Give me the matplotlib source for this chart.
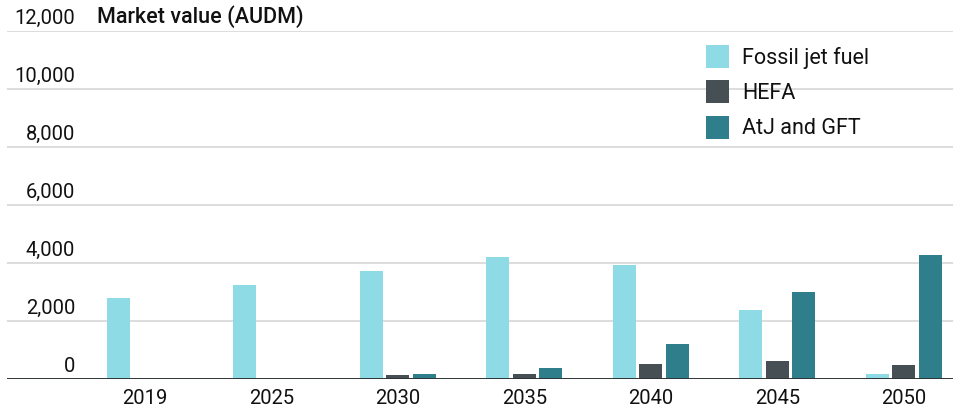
import numpy as np
import matplotlib
matplotlib.use("Agg")
import matplotlib.pyplot as plt

plt.rcParams['font.family'] = ['Roboto', 'DejaVu Sans']

years = ['2019', '2025', '2030', '2035', '2040', '2045', '2050']
fossil = [2800, 3250, 3730, 4220, 3940, 2390, 180]
hefa = [0, 0, 150, 180, 530, 630, 490]
atj_gft = [0, 0, 180, 390, 1220, 3010, 4290]
series_names = ['Fossil jet fuel', 'HEFA', 'AtJ and GFT']
yticks = [0, 2000, 4000, 6000, 8000, 10000, 12000]

colors = ['#8edbe6', '#464f53', '#2e7f8b']

fig = plt.figure(figsize=(9.6, 4.12), dpi=100)
ax = fig.add_axes([7 / 960, 1 - 379.3 / 412, 946 / 960, 348.3 / 412])

x = np.arange(len(years))
w = 0.182
step = 0.21
for i, (vals, name) in enumerate(zip([fossil, hefa, atj_gft], series_names)):
    ax.bar(x + (i - 1) * step, vals, width=w, color=colors[i], label=name, zorder=2)

ax.set_xlim(-1.09, 6.39)
ax.set_ylim(0, 12000)

# gridlines
for v in yticks[1:]:
    ax.axhline(v, color='#d3d3d3', lw=1.1, zorder=1)
ax.axhline(0, color='#2f3436', lw=1.4, zorder=3)

# y labels sit just above the gridlines, right aligned
for v in yticks:
    ax.annotate(f'{v:,}', xy=(0.072, v), xycoords=('axes fraction', 'data'),
                xytext=(0, 2.5), textcoords='offset points', ha='right', va='bottom',
                fontsize=14.5, color='#111111')

ax.annotate('Market value (AUDM)', xy=(0.095, 12000), xycoords=('axes fraction', 'data'),
            xytext=(0, 2.5), textcoords='offset points', ha='left', va='bottom',
            fontsize=15.5, fontweight='medium', color='#111111')

ax.set_yticks([])
ax.set_xticks(x)
ax.set_xticklabels(years, fontsize=14.5, color='#111111')
ax.tick_params(axis='x', length=0, pad=7)
for s in ax.spines.values():
    s.set_visible(False)

leg = ax.legend(loc='upper left', bbox_to_anchor=(0.739, 0.96), frameon=False,
                fontsize=15.5, handlelength=1.07, handleheight=1.25, handletextpad=0.6,
                labelspacing=0.55, borderpad=0, borderaxespad=0)
for t in leg.get_texts():
    t.set_color('#111111')

fig.savefig('out.png', dpi=100)
